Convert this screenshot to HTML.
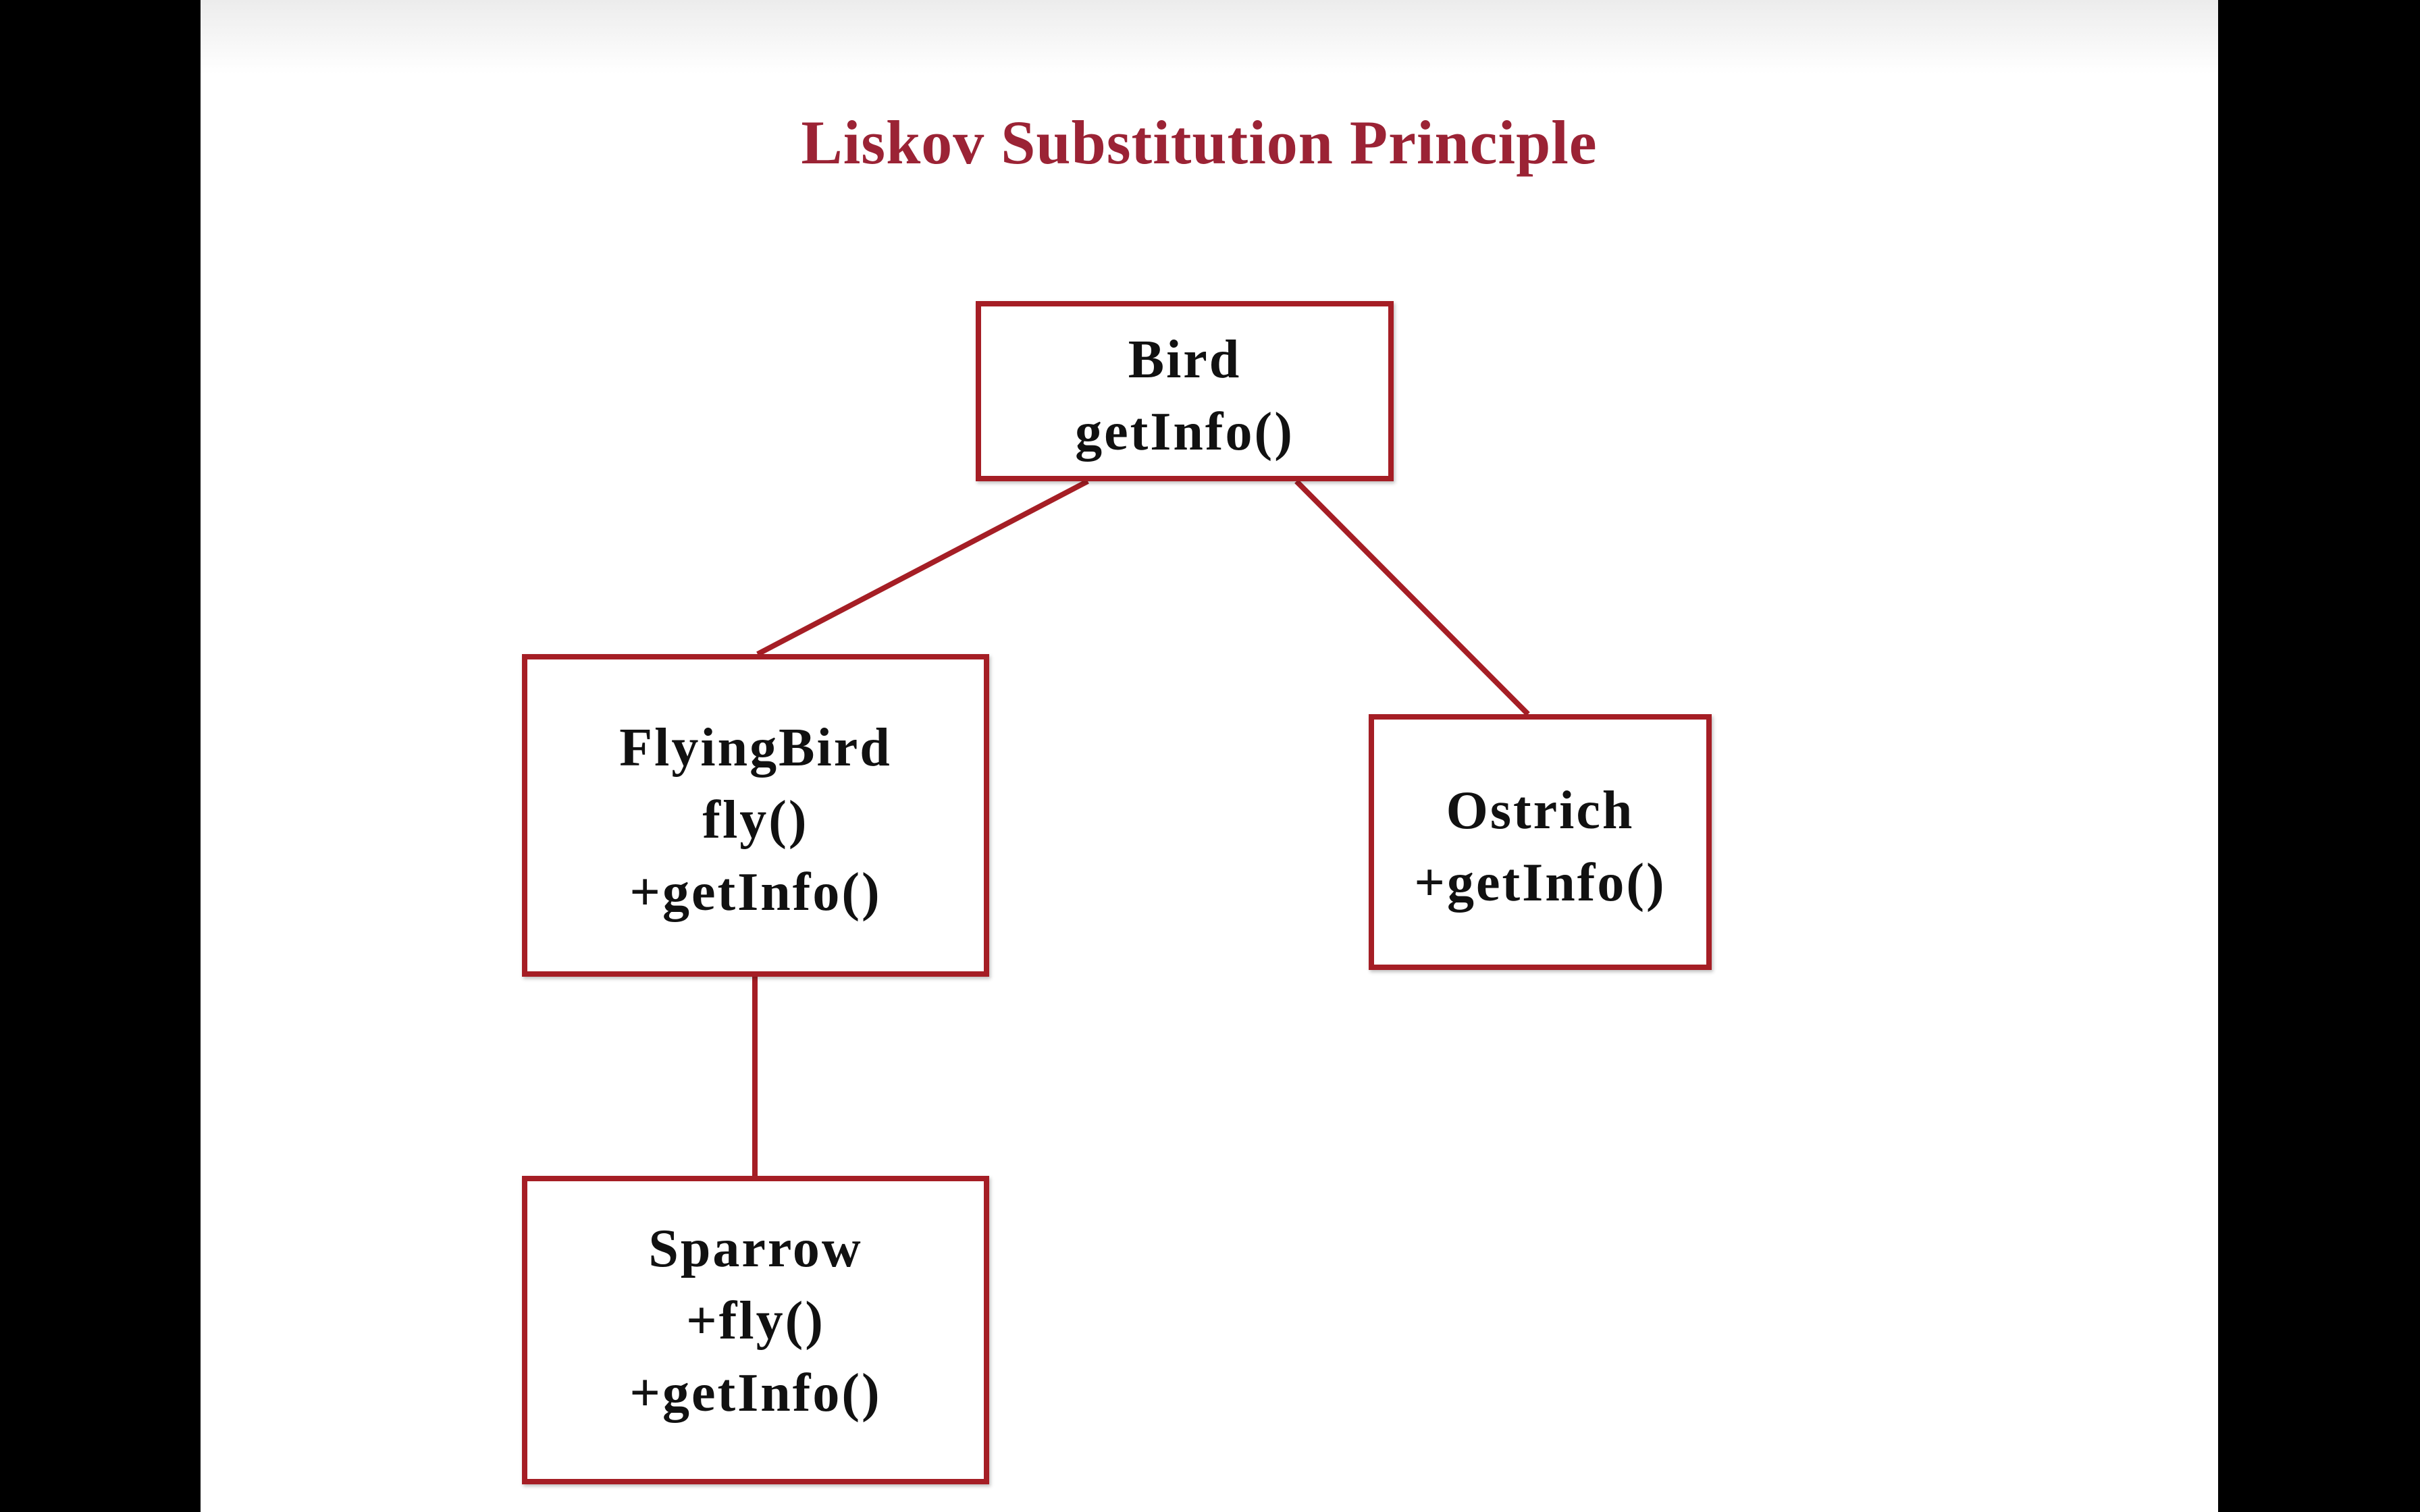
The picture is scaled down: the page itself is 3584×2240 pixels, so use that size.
<!DOCTYPE html>
<html><head><meta charset="utf-8"><style>
html,body{margin:0;padding:0;width:3584px;height:2240px;overflow:hidden;background:#000;}
.slide{position:absolute;left:297px;top:0;width:2988px;height:2240px;background:#fff;}
.title{position:absolute;left:-16px;top:158px;width:3584px;text-align:center;font-family:"Liberation Serif",serif;font-weight:bold;font-size:92px;letter-spacing:1px;color:#9b2335;}
.box{position:absolute;box-sizing:border-box;border:8px solid #a51e25;background:#fff;display:flex;flex-direction:column;justify-content:center;align-items:center;font-family:"Liberation Serif",serif;font-weight:bold;font-size:80px;letter-spacing:3px;line-height:107px;padding-top:14px;color:#111;box-shadow:2px 3px 5px rgba(0,0,0,0.25);}
svg{position:absolute;left:0;top:0;}
</style></head><body>
<div class="slide"></div>
<div style="position:absolute;left:297px;top:0;width:2988px;height:110px;background:linear-gradient(#ececec,#fff);"></div>
<div class="title">Liskov Substitution Principle</div>
<svg width="3584" height="2240"><g stroke="#a51e25" stroke-width="8" fill="none">
<line x1="1611" y1="713" x2="1122" y2="969"/>
<line x1="1920" y1="713" x2="2263" y2="1058"/>
<line x1="1118" y1="1447" x2="1118" y2="1742"/>
</g></svg>
<div class="box" style="left:1445px;top:446px;width:619px;height:267px;"><div>Bird</div><div>getInfo()</div></div>
<div class="box" style="left:773px;top:969px;width:692px;height:478px;"><div>FlyingBird</div><div>fly()</div><div>+getInfo()</div></div>
<div class="box" style="left:2027px;top:1058px;width:508px;height:379px;"><div>Ostrich</div><div>+getInfo()</div></div>
<div class="box" style="left:773px;top:1742px;width:692px;height:457px;padding-top:0;padding-bottom:26px;"><div>Sparrow</div><div>+fly()</div><div>+getInfo()</div></div>
</body></html>
